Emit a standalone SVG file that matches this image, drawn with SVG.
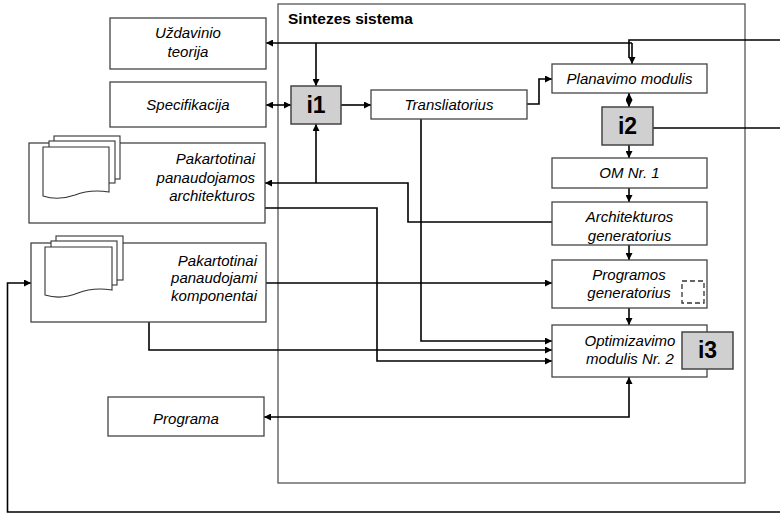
<svg xmlns="http://www.w3.org/2000/svg" width="780" height="513" viewBox="0 0 780 513">
<defs>
<marker id="ah" viewBox="0 0 10 10" refX="10" refY="5" markerWidth="7" markerHeight="7" markerUnits="userSpaceOnUse" orient="auto-start-reverse">
<path d="M0,0 L10,5 L0,10 Z" fill="#000"/>
</marker>
<style>
.box{fill:#fff;stroke:#444;stroke-width:1.3}
.ibox{fill:#d0d0d0;stroke:#444;stroke-width:1.5}
.frame{fill:none;stroke:#555;stroke-width:1.3}
.page{fill:#fff;stroke:#333;stroke-width:1.1}
.t{font-family:"Liberation Sans",Arial,sans-serif;font-size:15px;font-style:italic;fill:#000;text-anchor:middle}
.tr{text-anchor:end}
.ti{font-family:"Liberation Sans",Arial,sans-serif;font-size:23px;font-weight:bold;fill:#000;text-anchor:middle}
.title{font-family:"Liberation Sans",Arial,sans-serif;font-size:15.5px;font-weight:bold;fill:#000}
.c{fill:none;stroke:#000;stroke-width:1.6}
.ce{fill:none;stroke:#000;stroke-width:1.6;marker-end:url(#ah)}
.cb{fill:none;stroke:#000;stroke-width:1.6;marker-end:url(#ah);marker-start:url(#ah)}
.dash{fill:none;stroke:#333;stroke-width:1.3;stroke-dasharray:5,3}
</style>
</defs>
<rect x="0" y="0" width="780" height="513" fill="#fff"/>

<g id="sintezes-sistema">
<rect class="frame" x="278" y="4" width="467" height="479"/>
<text class="title" x="288" y="24">Sintezes sistema</text>
</g>

<g id="connectors">
<path class="c" d="M780,40 H629 V58"/>
<path class="ce" d="M632,43 V64"/>
<path class="ce" d="M632,43 H266"/>
<path class="ce" d="M316,43 V86"/>
<path class="cb" d="M266,105 H291"/>
<path class="ce" d="M341,105 H371"/>
<path class="ce" d="M527,104 H539 V79 H552"/>
<path class="cb" d="M629,93 V107"/>
<path class="c" d="M653,128 H780"/>
<path class="ce" d="M629,145 V158"/>
<path class="ce" d="M629,188 V202"/>
<path class="ce" d="M629,245 V260"/>
<path class="ce" d="M629,308 V325"/>
<path class="ce" d="M552,222 H408 V183 H265"/>
<path class="ce" d="M316,183 V124"/>
<path class="ce" d="M421,119 V341 H552"/>
<path class="ce" d="M149,322 V350 H552"/>
<path class="ce" d="M265,208 H377 V361 H552"/>
<path class="ce" d="M266,283 H552"/>
<path class="cb" d="M629,377 V417 H264"/>
<path class="ce" d="M780,512 H7.5 V283 H31"/>
</g>

<g id="uzdavinio-teorija">
<rect class="box" x="110" y="18" width="156" height="51"/>
<text class="t" x="188" y="38">Uždavinio</text>
<text class="t" x="188" y="57">teorija</text>
</g>

<g id="specifikacija">
<rect class="box" x="110" y="82" width="156" height="45"/>
<text class="t" x="188" y="110">Specifikacija</text>
</g>

<g id="i1">
<rect class="ibox" x="291" y="86" width="50" height="38"/>
<text class="ti" x="316" y="113">i1</text>
</g>

<g id="transliatorius">
<rect class="box" x="371" y="90" width="156" height="29"/>
<text class="t" x="449" y="110">Transliatorius</text>
</g>

<g id="planavimo-modulis">
<rect class="box" x="552" y="64" width="155" height="29"/>
<text class="t" x="629.5" y="84">Planavimo modulis</text>
</g>

<g id="i2">
<rect class="ibox" x="602" y="107" width="51" height="38"/>
<text class="ti" x="627.5" y="134">i2</text>
</g>

<g id="om-nr-1">
<rect class="box" x="552" y="158" width="155" height="30"/>
<text class="t" x="629.5" y="178">OM Nr. 1</text>
</g>

<g id="architekturos-generatorius">
<rect class="box" x="552" y="202" width="155" height="43"/>
<text class="t" x="629.5" y="222">Architekturos</text>
<text class="t" x="629.5" y="241">generatorius</text>
</g>

<g id="programos-generatorius">
<rect class="box" x="552" y="260" width="155" height="48"/>
<text class="t" x="629" y="280">Programos</text>
<text class="t" x="629" y="298">generatorius</text>
<rect class="dash" x="682" y="281" width="22" height="22"/>
</g>

<g id="optimizavimo-modulis">
<rect class="box" x="552" y="325" width="155" height="52"/>
<text class="t" x="630" y="346">Optimizavimo</text>
<text class="t" x="630" y="364">modulis Nr. 2</text>
</g>

<g id="i3">
<rect class="ibox" x="682" y="332" width="51" height="37"/>
<text class="ti" x="707.5" y="358">i3</text>
</g>

<g id="pakartotinai-architekturos">
<rect class="box" x="29" y="143" width="236" height="80"/>
<rect class="page" x="54" y="136" width="66" height="43"/>
<rect class="page" x="49" y="141" width="66" height="42"/>
<path class="page" d="M43,147 H109 V192 Q90,189 75,195 Q58,201 43,196 Z"/>
<text class="t tr" x="255" y="164">Pakartotinai</text>
<text class="t tr" x="255" y="183">panaudojamos</text>
<text class="t tr" x="255" y="201">architekturos</text>
</g>

<g id="pakartotinai-komponentai">
<rect class="box" x="31" y="243" width="235" height="79"/>
<rect class="page" x="56" y="236" width="67" height="44"/>
<rect class="page" x="51" y="241" width="66" height="44"/>
<path class="page" d="M45,247 H112 V290 Q93,287 78,293 Q61,300 45,295 Z"/>
<text class="t tr" x="257" y="266">Pakartotinai</text>
<text class="t tr" x="257" y="283">panaudojami</text>
<text class="t tr" x="257" y="301">komponentai</text>
</g>

<g id="programa">
<rect class="box" x="108" y="397" width="156" height="39"/>
<text class="t" x="186" y="424">Programa</text>
</g>
</svg>
